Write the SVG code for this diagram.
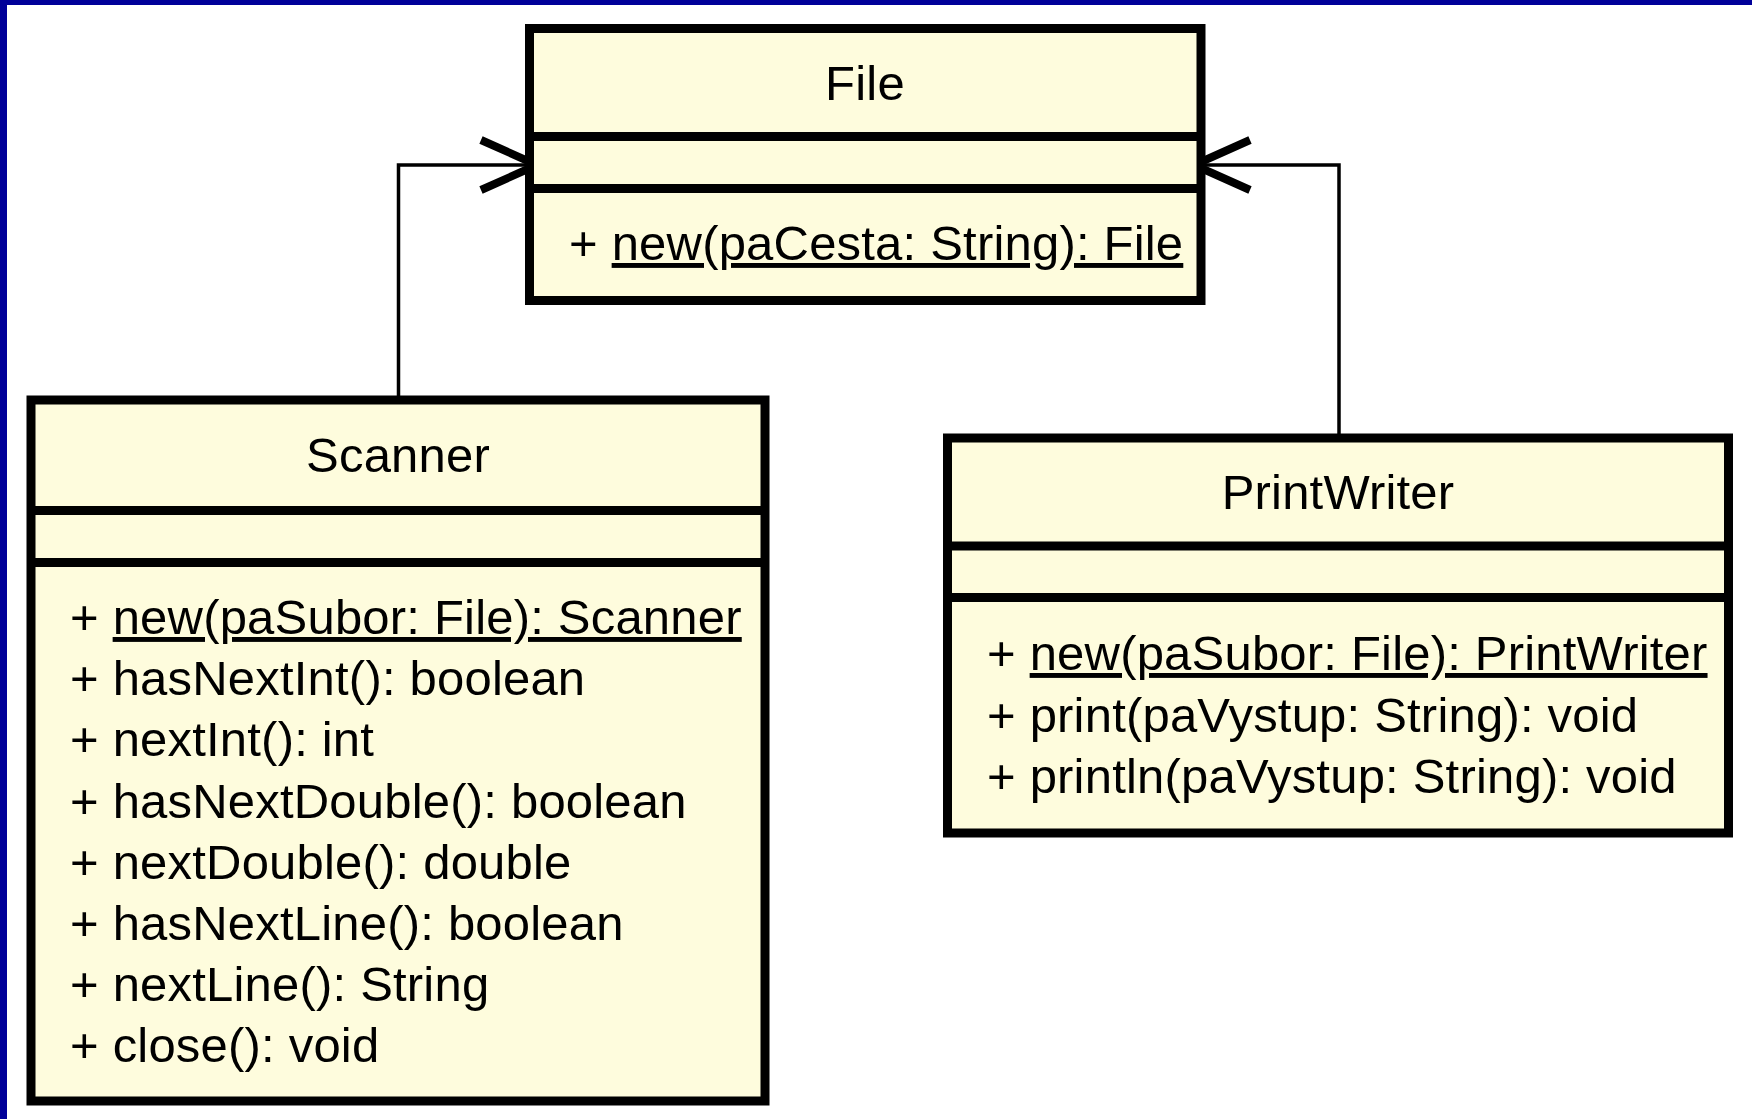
<svg xmlns="http://www.w3.org/2000/svg" width="1752" height="1119" viewBox="0 0 1752 1119">
  <style>
    .box { fill: #FEFCDD; stroke: #000; stroke-width: 9; }
    .div { stroke: #000; stroke-width: 9; fill: none; }
    .t { font-family: "Liberation Sans", Arial, sans-serif; font-size: 49px; fill: #000; letter-spacing: 0.2px; }
    .title { text-anchor: middle; }
    .conn { fill: none; stroke: #000; stroke-width: 3.5; }
    .u { text-decoration: underline; }
  </style>
  <defs>
    <marker id="open" markerUnits="userSpaceOnUse" markerWidth="80" markerHeight="80" viewBox="-70 -40 80 80" refX="0" refY="0" orient="auto" overflow="visible">
      <path d="M -56 -25 L 0 0 L -56 25" fill="none" stroke="#000" stroke-width="8" stroke-linejoin="miter"/>
    </marker>
  </defs>

  <rect x="0" y="0" width="1752" height="1119" fill="#FFFFFF"/>
  <rect x="0" y="0" width="1752" height="5" fill="#000099"/>
  <rect x="0" y="0" width="7" height="1119" fill="#000099"/>

  <g id="connectors">
    <path class="conn" d="M 398.5 400 V 165 H 537" marker-end="url(#open)"/>
    <path class="conn" d="M 1339 438 V 165 H 1194" marker-end="url(#open)"/>
  </g>

  <g id="File">
    <rect class="box" x="529.5" y="28.5" width="671.5" height="272"/>
    <line class="div" x1="529.5" y1="136.5" x2="1201" y2="136.5"/>
    <line class="div" x1="529.5" y1="188.5" x2="1201" y2="188.5"/>
    <text class="t title" x="865" y="100">File</text>
    <text class="t" x="569" y="260">+ <tspan class="u">new(paCesta: String): File</tspan></text>
  </g>

  <g id="Scanner">
    <rect class="box" x="31" y="400" width="734" height="701"/>
    <line class="div" x1="31" y1="510.5" x2="765" y2="510.5"/>
    <line class="div" x1="31" y1="562.5" x2="765" y2="562.5"/>
    <text class="t title" x="398" y="472">Scanner</text>
    <text class="t" x="70" y="634">+ <tspan class="u">new(paSubor: File): Scanner</tspan></text>
    <text class="t" x="70" y="695">+ hasNextInt(): boolean</text>
    <text class="t" x="70" y="756">+ nextInt(): int</text>
    <text class="t" x="70" y="818">+ hasNextDouble(): boolean</text>
    <text class="t" x="70" y="879">+ nextDouble(): double</text>
    <text class="t" x="70" y="940">+ hasNextLine(): boolean</text>
    <text class="t" x="70" y="1001">+ nextLine(): String</text>
    <text class="t" x="70" y="1062">+ close(): void</text>
  </g>

  <g id="PrintWriter">
    <rect class="box" x="947.5" y="438" width="781" height="395"/>
    <line class="div" x1="947.5" y1="546" x2="1728.5" y2="546"/>
    <line class="div" x1="947.5" y1="597.5" x2="1728.5" y2="597.5"/>
    <text class="t title" x="1338" y="509">PrintWriter</text>
    <text class="t" x="987" y="670">+ <tspan class="u">new(paSubor: File): PrintWriter</tspan></text>
    <text class="t" x="987" y="732">+ print(paVystup: String): void</text>
    <text class="t" x="987" y="793">+ println(paVystup: String): void</text>
  </g>
</svg>
